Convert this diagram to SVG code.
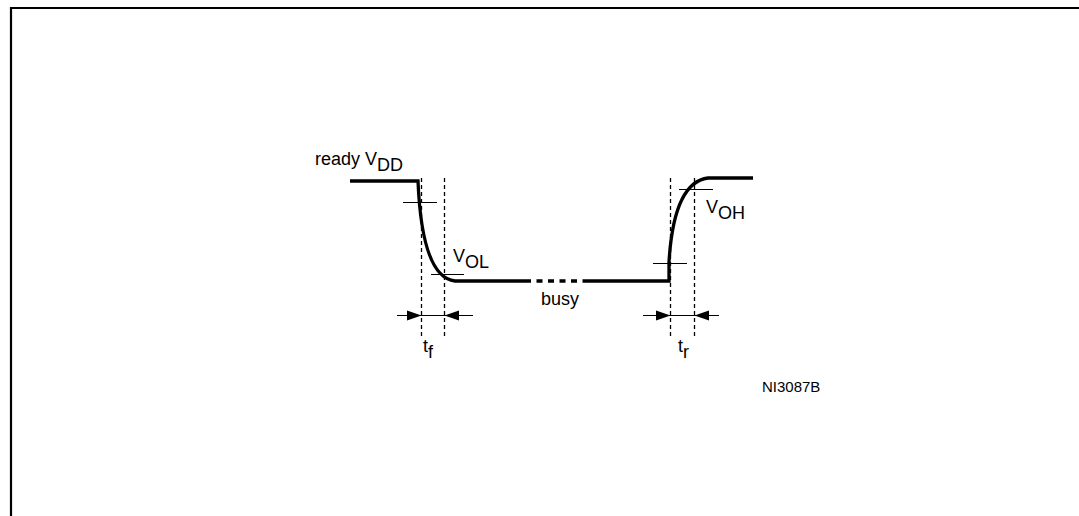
<svg xmlns="http://www.w3.org/2000/svg" width="1079" height="516" viewBox="0 0 1079 516">
<style>
.t{font-family:"Liberation Sans",Arial,sans-serif;font-size:18px;fill:#000}
.s{font-family:"Liberation Sans",Arial,sans-serif;font-size:15px;fill:#000}
.w{fill:none;stroke:#000;stroke-width:3.3}
.d{fill:none;stroke:#000;stroke-width:1.3;stroke-dasharray:4 3}
.k{fill:none;stroke:#000;stroke-width:1}
.a{fill:#000}
</style>
<rect width="1079" height="516" fill="#fff"/>
<path d="M11,516 V8 H1079" fill="none" stroke="#000" stroke-width="2.2"/>
<g id="waveform">
<path class="w" d="M350,181 H418 C420,230 428,278 455,281 H525"/>
<path fill="none" stroke="#000" stroke-width="3.3" stroke-dasharray="6 5.5" d="M525,281 H583"/>
<path class="w" d="M583,281 H669 V262 C672,212 684,181 708,178 H753"/>
</g>
<g id="connectors">
<path class="d" d="M421.5,178 V338 M444.5,178 V338 M670.5,178 V338 M694.5,178 V338"/>
<path class="k" d="M403,202.5 H437 M431,274.5 H464 M653,263.5 H687 M679,189.5 H713"/>
<path class="k" d="M397,315.5 H473 M643,315.5 H719"/>
<path class="a" d="M421.5,315.5 L407,310.5 V320.5 Z M444.5,315.5 L459,310.5 V320.5 Z M670.5,315.5 L656,310.5 V320.5 Z M694.5,315.5 L709,310.5 V320.5 Z"/>
</g>
<g id="labels">
<text class="t" x="315" y="165">ready V<tspan dy="6">DD</tspan></text>
<text class="t" x="453" y="262">V<tspan dy="6">OL</tspan></text>
<text class="t" x="706" y="213">V<tspan dy="6">OH</tspan></text>
<text class="t" x="541" y="305">busy</text>
<text class="t" x="423" y="352">t<tspan dy="6">f</tspan></text>
<text class="t" x="678" y="352">t<tspan dy="6">r</tspan></text>
<text class="s" x="762" y="392">NI3087B</text>
</g>
</svg>
